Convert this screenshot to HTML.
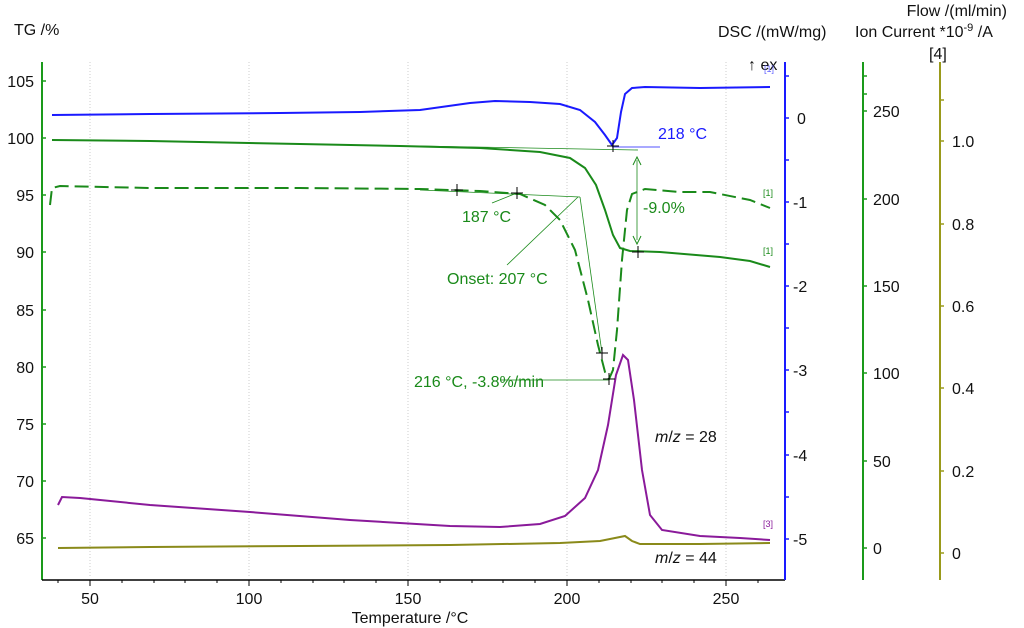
<!DOCTYPE html>
<html><head><meta charset="utf-8"><style>
html,body{margin:0;padding:0;background:#fff;}
svg{display:block;font-family:"Liberation Sans",sans-serif;}
</style></head><body>
<svg width="1024" height="628" viewBox="0 0 1024 628">
<rect width="1024" height="628" fill="#fff"/>
<!-- grid -->
<g stroke="#ccc" stroke-width="1" stroke-dasharray="1,2">
<line x1="90" y1="62" x2="90" y2="578"/><line x1="249" y1="62" x2="249" y2="578"/><line x1="408" y1="62" x2="408" y2="578"/><line x1="567" y1="62" x2="567" y2="578"/><line x1="726" y1="62" x2="726" y2="578"/>
</g>
<!-- left TG axis -->
<line x1="42" y1="62" x2="42" y2="580" stroke="#1a9a1a" stroke-width="2"/>
<line x1="42" y1="580" x2="785" y2="580" stroke="#000" stroke-width="1.5"/>
<g stroke="#1a9a1a" stroke-width="1.5">
<line x1="42" y1="81" x2="46" y2="81"/><line x1="42" y1="138" x2="46" y2="138"/><line x1="42" y1="195" x2="46" y2="195"/><line x1="42" y1="252" x2="46" y2="252"/><line x1="42" y1="310" x2="46" y2="310"/><line x1="42" y1="367" x2="46" y2="367"/><line x1="42" y1="424" x2="46" y2="424"/><line x1="42" y1="481" x2="46" y2="481"/><line x1="42" y1="538" x2="46" y2="538"/>
</g>
<g font-size="16" fill="#111" text-anchor="end">
<text x="34" y="87">105</text><text x="34" y="144">100</text><text x="34" y="201">95</text><text x="34" y="258">90</text><text x="34" y="316">85</text><text x="34" y="373">80</text><text x="34" y="430">75</text><text x="34" y="487">70</text><text x="34" y="544">65</text>
</g>
<text x="14" y="35" font-size="16" fill="#111">TG /%</text>
<!-- x ticks -->
<g stroke="#000" stroke-width="1">
<line x1="90" y1="580" x2="90" y2="586"/><line x1="249" y1="580" x2="249" y2="586"/><line x1="408" y1="580" x2="408" y2="586"/><line x1="567" y1="580" x2="567" y2="586"/><line x1="726" y1="580" x2="726" y2="586"/>
<line x1="58" y1="580" x2="58" y2="583"/><line x1="122" y1="580" x2="122" y2="583"/><line x1="154" y1="580" x2="154" y2="583"/><line x1="185" y1="580" x2="185" y2="583"/><line x1="217" y1="580" x2="217" y2="583"/><line x1="281" y1="580" x2="281" y2="583"/><line x1="313" y1="580" x2="313" y2="583"/><line x1="344" y1="580" x2="344" y2="583"/><line x1="376" y1="580" x2="376" y2="583"/><line x1="440" y1="580" x2="440" y2="583"/><line x1="472" y1="580" x2="472" y2="583"/><line x1="503" y1="580" x2="503" y2="583"/><line x1="535" y1="580" x2="535" y2="583"/><line x1="599" y1="580" x2="599" y2="583"/><line x1="631" y1="580" x2="631" y2="583"/><line x1="662" y1="580" x2="662" y2="583"/><line x1="694" y1="580" x2="694" y2="583"/><line x1="758" y1="580" x2="758" y2="583"/>
</g>
<g font-size="16" fill="#111" text-anchor="middle">
<text x="90" y="604">50</text><text x="249" y="604">100</text><text x="408" y="604">150</text><text x="567" y="604">200</text><text x="726" y="604">250</text>
<text x="410" y="623">Temperature /°C</text>
</g>
<!-- blue DSC axis -->
<line x1="785" y1="62" x2="785" y2="580" stroke="#1a1aff" stroke-width="2"/>
<g stroke="#1a1aff" stroke-width="1.5">
<line x1="785" y1="76" x2="789" y2="76"/><line x1="785" y1="118" x2="789" y2="118"/><line x1="785" y1="160" x2="789" y2="160"/><line x1="785" y1="202" x2="789" y2="202"/><line x1="785" y1="244" x2="789" y2="244"/><line x1="785" y1="286" x2="789" y2="286"/><line x1="785" y1="328" x2="789" y2="328"/><line x1="785" y1="370" x2="789" y2="370"/><line x1="785" y1="412" x2="789" y2="412"/><line x1="785" y1="455" x2="789" y2="455"/><line x1="785" y1="497" x2="789" y2="497"/><line x1="785" y1="539" x2="789" y2="539"/>
</g>
<g font-size="16" fill="#111">
<text x="797" y="124">0</text><text x="793" y="208">-1</text><text x="793" y="292">-2</text><text x="793" y="376">-3</text><text x="793" y="461">-4</text><text x="793" y="545">-5</text>
</g>
<!-- green flow axis -->
<line x1="863" y1="62" x2="863" y2="580" stroke="#1a9a1a" stroke-width="2"/>
<g stroke="#1a9a1a" stroke-width="1.5">
<line x1="863" y1="76" x2="867" y2="76"/><line x1="863" y1="94" x2="867" y2="94"/><line x1="863" y1="111" x2="867" y2="111"/><line x1="863" y1="199" x2="867" y2="199"/><line x1="863" y1="286" x2="867" y2="286"/><line x1="863" y1="373" x2="867" y2="373"/><line x1="863" y1="461" x2="867" y2="461"/><line x1="863" y1="548" x2="867" y2="548"/>
</g>
<g font-size="16" fill="#111">
<text x="873" y="117">250</text><text x="873" y="205">200</text><text x="873" y="292">150</text><text x="873" y="379">100</text><text x="873" y="467">50</text><text x="873" y="554">0</text>
</g>
<!-- olive axis -->
<line x1="940" y1="62" x2="940" y2="580" stroke="#9a9a1a" stroke-width="2"/>
<g stroke="#9a9a1a" stroke-width="1.5">
<line x1="940" y1="100" x2="944" y2="100"/><line x1="940" y1="141" x2="944" y2="141"/><line x1="940" y1="224" x2="944" y2="224"/><line x1="940" y1="306" x2="944" y2="306"/><line x1="940" y1="388" x2="944" y2="388"/><line x1="940" y1="471" x2="944" y2="471"/><line x1="940" y1="553" x2="944" y2="553"/>
</g>
<g font-size="16" fill="#111">
<text x="952" y="147">1.0</text><text x="952" y="230">0.8</text><text x="952" y="312">0.6</text><text x="952" y="394">0.4</text><text x="952" y="477">0.2</text><text x="952" y="559">0</text>
</g>
<g font-size="16" fill="#111">
<text x="1007" y="16" text-anchor="end">Flow /(ml/min)</text>
<text x="718" y="37">DSC /(mW/mg)</text>
<text x="855" y="37">Ion Current *10<tspan dy="-6" font-size="11">-9</tspan><tspan dy="6"> /A</tspan></text>
<text x="929" y="59">[4]</text>
<text x="748" y="70">↑ ex</text>
</g>
<text x="764" y="72" font-size="9" fill="#66f">[1]</text>
<!-- curves -->
<path d="M52,115 L150,114 L280,113 L360,112 L420,110 L470,103 L495,101 L530,102 L560,104 L580,110 L595,122 L605,135 L612,145 L617,138 L621,112 L625,94 L632,88 L645,87 L700,88 L770,87" fill="none" stroke="#1a1aff" stroke-width="2"/>
<path d="M52,140 L150,141 L300,144 L400,146 L480,148 L540,152 L570,158 L585,168 L596,185 L605,210 L613,235 L620,248 L630,251 L660,252 L720,257 L750,261 L770,267" fill="none" stroke="#1a8a1a" stroke-width="2"/>
<path d="M50,205 L52,188 L60,186 L150,188 L300,188 L420,189 L480,191 L520,194 L545,205 L560,220 L575,250 L588,300 L598,345 L605,372 L609,379 L613,370 L617,330 L622,260 L627,210 L632,194 L645,189 L680,192 L710,192 L750,200 L770,208" fill="none" stroke="#1a8a1a" stroke-width="2" stroke-dasharray="14,6"/>
<path d="M58,505 L62,497 L80,498 L150,505 L250,512 L350,520 L450,526 L500,527 L540,524 L565,516 L585,498 L598,470 L608,425 L616,375 L623,355 L628,360 L634,400 L642,470 L650,515 L662,530 L700,536 L740,538 L770,540" fill="none" stroke="#8a1a9a" stroke-width="2"/>
<path d="M58,548 L150,547 L300,546 L450,545 L560,543 L600,541 L615,538 L625,536 L632,541 L640,544 L700,544 L770,543" fill="none" stroke="#8a8a1a" stroke-width="2"/>
<!-- annotations -->
<g stroke="#1a8a1a" stroke-width="0.8" fill="none">
<line x1="420" y1="146" x2="638" y2="150"/>
<line x1="420" y1="190" x2="580" y2="197"/>
<line x1="580" y1="197" x2="602" y2="353"/>
<line x1="578" y1="197" x2="507" y2="265"/>
<line x1="517" y1="193" x2="492" y2="203"/>
<line x1="500" y1="380" x2="609" y2="380"/>
<line x1="637" y1="160" x2="637" y2="240"/>
</g>
<path d="M633,165 L637,157 L641,165 M633,236 L637,244 L641,236" fill="none" stroke="#1a8a1a" stroke-width="1"/>
<line x1="612" y1="147" x2="660" y2="147" stroke="#1a1aff" stroke-width="0.8"/>
<g stroke="#000" stroke-width="1">
<path d="M457,184v12M451,190h12"/><path d="M517,187v12M511,193h12"/><path d="M613,140v12M607,146h12"/><path d="M638,246v12M632,252h12"/><path d="M602,347v12M596,353h12"/><path d="M609,373v12M603,379h12"/>
</g>
<g font-size="16">
<text x="658" y="139" fill="#1a1aff">218 °C</text>
<text x="462" y="222" fill="#1a8a1a">187 °C</text>
<text x="643" y="213" fill="#1a8a1a">-9.0%</text>
<text x="447" y="284" fill="#1a8a1a">Onset: 207 °C</text>
<text x="414" y="387" fill="#1a8a1a">216 °C, -3.8%/min</text>
<text x="655" y="442" fill="#111"><tspan font-style="italic">m</tspan>/<tspan font-style="italic">z</tspan> = 28</text>
<text x="655" y="563" fill="#111"><tspan font-style="italic">m</tspan>/<tspan font-style="italic">z</tspan> = 44</text>
</g>
<g font-size="9">
<text x="763" y="196" fill="#1a8a1a">[1]</text>
<text x="763" y="254" fill="#1a8a1a">[1]</text>
<text x="763" y="527" fill="#8a1a9a">[3]</text>
</g>
</svg>
</body></html>
